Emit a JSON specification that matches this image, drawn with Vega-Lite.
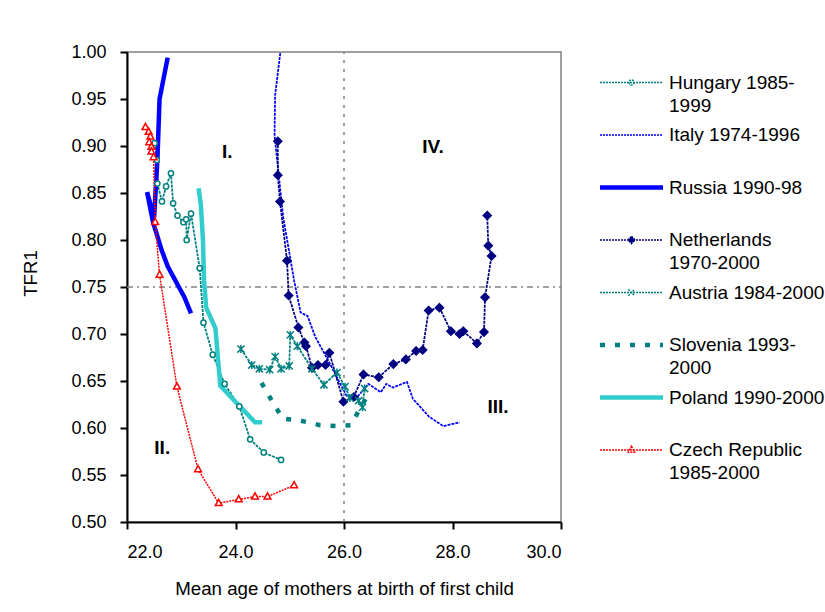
{
  "$schema": "https://vega.github.io/schema/vega-lite/v6.json",
  "width": 434,
  "height": 470,
  "autosize": "none",
  "padding": {"left": 127, "top": 52, "right": 264, "bottom": 90},
  "background": "white",
  "config": {
    "font": "Liberation Sans",
    "view": {"stroke": "#808080", "strokeWidth": 1.5},
    "axis": {
      "grid": false, "domainColor": "black", "domainWidth": 2, "tickColor": "black", "tickWidth": 2, "tickSize": 7,
      "labelFont": "Liberation Sans", "labelFontSize": 18, "labelColor": "black",
      "titleFont": "Liberation Sans", "titleFontSize": 18.7, "titleFontWeight": "normal", "titleColor": "black"
    }
  },
  "datasets": {
    "pts": [
      {"s": "Hungary 1985-1999", "o": 1, "x": 22.51, "y": 0.903},
      {"s": "Hungary 1985-1999", "o": 2, "x": 22.55, "y": 0.885},
      {"s": "Hungary 1985-1999", "o": 3, "x": 22.56, "y": 0.860},
      {"s": "Hungary 1985-1999", "o": 4, "x": 22.645, "y": 0.841},
      {"s": "Hungary 1985-1999", "o": 5, "x": 22.72, "y": 0.857},
      {"s": "Hungary 1985-1999", "o": 6, "x": 22.81, "y": 0.871},
      {"s": "Hungary 1985-1999", "o": 7, "x": 22.85, "y": 0.839},
      {"s": "Hungary 1985-1999", "o": 8, "x": 22.93, "y": 0.826},
      {"s": "Hungary 1985-1999", "o": 9, "x": 23.04, "y": 0.819},
      {"s": "Hungary 1985-1999", "o": 10, "x": 23.09, "y": 0.822},
      {"s": "Hungary 1985-1999", "o": 11, "x": 23.10, "y": 0.800},
      {"s": "Hungary 1985-1999", "o": 12, "x": 23.18, "y": 0.828},
      {"s": "Hungary 1985-1999", "o": 13, "x": 23.34, "y": 0.770},
      {"s": "Hungary 1985-1999", "o": 14, "x": 23.41, "y": 0.712},
      {"s": "Hungary 1985-1999", "o": 15, "x": 23.58, "y": 0.678},
      {"s": "Hungary 1985-1999", "o": 16, "x": 23.80, "y": 0.647},
      {"s": "Hungary 1985-1999", "o": 17, "x": 24.07, "y": 0.623},
      {"s": "Hungary 1985-1999", "o": 18, "x": 24.27, "y": 0.588},
      {"s": "Hungary 1985-1999", "o": 19, "x": 24.52, "y": 0.574},
      {"s": "Hungary 1985-1999", "o": 20, "x": 24.84, "y": 0.566},
      {"s": "Italy 1974-1996", "o": 1, "x": 24.87, "y": 1.02},
      {"s": "Italy 1974-1996", "o": 2, "x": 24.73, "y": 0.954},
      {"s": "Italy 1974-1996", "o": 3, "x": 24.72, "y": 0.911},
      {"s": "Italy 1974-1996", "o": 4, "x": 24.88, "y": 0.824},
      {"s": "Italy 1974-1996", "o": 5, "x": 25.08, "y": 0.757},
      {"s": "Italy 1974-1996", "o": 6, "x": 25.20, "y": 0.723},
      {"s": "Italy 1974-1996", "o": 7, "x": 25.33, "y": 0.719},
      {"s": "Italy 1974-1996", "o": 8, "x": 25.47, "y": 0.697},
      {"s": "Italy 1974-1996", "o": 9, "x": 25.68, "y": 0.675},
      {"s": "Italy 1974-1996", "o": 10, "x": 25.93, "y": 0.647},
      {"s": "Italy 1974-1996", "o": 11, "x": 26.05, "y": 0.634},
      {"s": "Italy 1974-1996", "o": 12, "x": 26.20, "y": 0.630},
      {"s": "Italy 1974-1996", "o": 13, "x": 26.45, "y": 0.647},
      {"s": "Italy 1974-1996", "o": 14, "x": 26.68, "y": 0.638},
      {"s": "Italy 1974-1996", "o": 15, "x": 26.78, "y": 0.647},
      {"s": "Italy 1974-1996", "o": 16, "x": 26.90, "y": 0.643},
      {"s": "Italy 1974-1996", "o": 17, "x": 27.16, "y": 0.649},
      {"s": "Italy 1974-1996", "o": 18, "x": 27.27, "y": 0.631},
      {"s": "Italy 1974-1996", "o": 19, "x": 27.57, "y": 0.612},
      {"s": "Italy 1974-1996", "o": 20, "x": 27.83, "y": 0.602},
      {"s": "Italy 1974-1996", "o": 21, "x": 28.13, "y": 0.606},
      {"s": "Russia 1990-98", "o": 1, "x": 22.75, "y": 0.994},
      {"s": "Russia 1990-98", "o": 2, "x": 22.60, "y": 0.950},
      {"s": "Russia 1990-98", "o": 3, "x": 22.56, "y": 0.885},
      {"s": "Russia 1990-98", "o": 4, "x": 22.50, "y": 0.824},
      {"s": "Russia 1990-98", "o": 5, "x": 22.37, "y": 0.851},
      {"s": "Russia 1990-98", "o": 6, "x": 22.48, "y": 0.819},
      {"s": "Russia 1990-98", "o": 7, "x": 22.64, "y": 0.789},
      {"s": "Russia 1990-98", "o": 8, "x": 22.75, "y": 0.772},
      {"s": "Russia 1990-98", "o": 9, "x": 23.06, "y": 0.739},
      {"s": "Russia 1990-98", "o": 10, "x": 23.18, "y": 0.722},
      {"s": "Netherlands 1970-2000", "o": 1, "x": 24.78, "y": 0.905},
      {"s": "Netherlands 1970-2000", "o": 2, "x": 24.78, "y": 0.869},
      {"s": "Netherlands 1970-2000", "o": 3, "x": 24.82, "y": 0.841},
      {"s": "Netherlands 1970-2000", "o": 4, "x": 24.95, "y": 0.778},
      {"s": "Netherlands 1970-2000", "o": 5, "x": 24.98, "y": 0.741},
      {"s": "Netherlands 1970-2000", "o": 6, "x": 25.16, "y": 0.707},
      {"s": "Netherlands 1970-2000", "o": 7, "x": 25.27, "y": 0.691},
      {"s": "Netherlands 1970-2000", "o": 8, "x": 25.30, "y": 0.687},
      {"s": "Netherlands 1970-2000", "o": 9, "x": 25.41, "y": 0.664},
      {"s": "Netherlands 1970-2000", "o": 10, "x": 25.52, "y": 0.667},
      {"s": "Netherlands 1970-2000", "o": 11, "x": 25.66, "y": 0.667},
      {"s": "Netherlands 1970-2000", "o": 12, "x": 25.73, "y": 0.680},
      {"s": "Netherlands 1970-2000", "o": 13, "x": 25.99, "y": 0.628},
      {"s": "Netherlands 1970-2000", "o": 14, "x": 26.18, "y": 0.633},
      {"s": "Netherlands 1970-2000", "o": 15, "x": 26.36, "y": 0.657},
      {"s": "Netherlands 1970-2000", "o": 16, "x": 26.64, "y": 0.654},
      {"s": "Netherlands 1970-2000", "o": 17, "x": 26.91, "y": 0.668},
      {"s": "Netherlands 1970-2000", "o": 18, "x": 27.14, "y": 0.673},
      {"s": "Netherlands 1970-2000", "o": 19, "x": 27.33, "y": 0.682},
      {"s": "Netherlands 1970-2000", "o": 20, "x": 27.45, "y": 0.683},
      {"s": "Netherlands 1970-2000", "o": 21, "x": 27.56, "y": 0.725},
      {"s": "Netherlands 1970-2000", "o": 22, "x": 27.76, "y": 0.728},
      {"s": "Netherlands 1970-2000", "o": 23, "x": 27.97, "y": 0.703},
      {"s": "Netherlands 1970-2000", "o": 24, "x": 28.13, "y": 0.700},
      {"s": "Netherlands 1970-2000", "o": 25, "x": 28.20, "y": 0.703},
      {"s": "Netherlands 1970-2000", "o": 26, "x": 28.45, "y": 0.690},
      {"s": "Netherlands 1970-2000", "o": 27, "x": 28.58, "y": 0.702},
      {"s": "Netherlands 1970-2000", "o": 28, "x": 28.60, "y": 0.739},
      {"s": "Netherlands 1970-2000", "o": 29, "x": 28.72, "y": 0.783},
      {"s": "Netherlands 1970-2000", "o": 30, "x": 28.66, "y": 0.794},
      {"s": "Netherlands 1970-2000", "o": 31, "x": 28.64, "y": 0.826},
      {"s": "Austria 1984-2000", "o": 1, "x": 24.10, "y": 0.684},
      {"s": "Austria 1984-2000", "o": 2, "x": 24.30, "y": 0.667},
      {"s": "Austria 1984-2000", "o": 3, "x": 24.44, "y": 0.663},
      {"s": "Austria 1984-2000", "o": 4, "x": 24.63, "y": 0.662},
      {"s": "Austria 1984-2000", "o": 5, "x": 24.73, "y": 0.676},
      {"s": "Austria 1984-2000", "o": 6, "x": 24.84, "y": 0.663},
      {"s": "Austria 1984-2000", "o": 7, "x": 24.99, "y": 0.666},
      {"s": "Austria 1984-2000", "o": 8, "x": 25.01, "y": 0.699},
      {"s": "Austria 1984-2000", "o": 9, "x": 25.14, "y": 0.687},
      {"s": "Austria 1984-2000", "o": 10, "x": 25.41, "y": 0.663},
      {"s": "Austria 1984-2000", "o": 11, "x": 25.63, "y": 0.646},
      {"s": "Austria 1984-2000", "o": 12, "x": 25.87, "y": 0.659},
      {"s": "Austria 1984-2000", "o": 13, "x": 26.02, "y": 0.644},
      {"s": "Austria 1984-2000", "o": 14, "x": 26.11, "y": 0.632},
      {"s": "Austria 1984-2000", "o": 15, "x": 26.27, "y": 0.629},
      {"s": "Austria 1984-2000", "o": 16, "x": 26.34, "y": 0.622},
      {"s": "Austria 1984-2000", "o": 17, "x": 26.38, "y": 0.642},
      {"s": "Slovenia 1993-2000", "o": 1, "x": 24.48, "y": 0.648},
      {"s": "Slovenia 1993-2000", "o": 2, "x": 24.66, "y": 0.630},
      {"s": "Slovenia 1993-2000", "o": 3, "x": 24.87, "y": 0.610},
      {"s": "Slovenia 1993-2000", "o": 4, "x": 25.19, "y": 0.608},
      {"s": "Slovenia 1993-2000", "o": 5, "x": 25.56, "y": 0.603},
      {"s": "Slovenia 1993-2000", "o": 6, "x": 25.87, "y": 0.602},
      {"s": "Slovenia 1993-2000", "o": 7, "x": 26.12, "y": 0.603},
      {"s": "Slovenia 1993-2000", "o": 8, "x": 26.47, "y": 0.638},
      {"s": "Poland 1990-2000", "o": 1, "x": 23.32, "y": 0.855},
      {"s": "Poland 1990-2000", "o": 2, "x": 23.36, "y": 0.838},
      {"s": "Poland 1990-2000", "o": 3, "x": 23.40, "y": 0.800},
      {"s": "Poland 1990-2000", "o": 4, "x": 23.42, "y": 0.757},
      {"s": "Poland 1990-2000", "o": 5, "x": 23.46, "y": 0.728},
      {"s": "Poland 1990-2000", "o": 6, "x": 23.63, "y": 0.706},
      {"s": "Poland 1990-2000", "o": 7, "x": 23.72, "y": 0.645},
      {"s": "Poland 1990-2000", "o": 8, "x": 24.03, "y": 0.626},
      {"s": "Poland 1990-2000", "o": 9, "x": 24.36, "y": 0.606},
      {"s": "Poland 1990-2000", "o": 10, "x": 24.49, "y": 0.606},
      {"s": "Czech Republic 1985-2000", "o": 1, "x": 22.34, "y": 0.920},
      {"s": "Czech Republic 1985-2000", "o": 2, "x": 22.40, "y": 0.915},
      {"s": "Czech Republic 1985-2000", "o": 3, "x": 22.43, "y": 0.910},
      {"s": "Czech Republic 1985-2000", "o": 4, "x": 22.41, "y": 0.904},
      {"s": "Czech Republic 1985-2000", "o": 5, "x": 22.45, "y": 0.899},
      {"s": "Czech Republic 1985-2000", "o": 6, "x": 22.45, "y": 0.894},
      {"s": "Czech Republic 1985-2000", "o": 7, "x": 22.49, "y": 0.888},
      {"s": "Czech Republic 1985-2000", "o": 8, "x": 22.52, "y": 0.819},
      {"s": "Czech Republic 1985-2000", "o": 9, "x": 22.60, "y": 0.763},
      {"s": "Czech Republic 1985-2000", "o": 10, "x": 22.92, "y": 0.644},
      {"s": "Czech Republic 1985-2000", "o": 11, "x": 23.31, "y": 0.556},
      {"s": "Czech Republic 1985-2000", "o": 12, "x": 23.69, "y": 0.520},
      {"s": "Czech Republic 1985-2000", "o": 13, "x": 24.06, "y": 0.524},
      {"s": "Czech Republic 1985-2000", "o": 14, "x": 24.36, "y": 0.527},
      {"s": "Czech Republic 1985-2000", "o": 15, "x": 24.59, "y": 0.527},
      {"s": "Czech Republic 1985-2000", "o": 16, "x": 25.08, "y": 0.539}
    ]
  },
  "encoding": {
    "x": {"field": "x", "type": "quantitative", "scale": {"domain": [22, 30], "nice": false, "zero": false},
      "axis": {"values": [22, 24, 26, 28, 30], "format": ".1f", "labelPadding": 14, "titlePadding": 18},
      "title": "Mean age of mothers at birth of first child"},
    "y": {"field": "y", "type": "quantitative", "scale": {"domain": [0.5, 1.0], "nice": false, "zero": false},
      "axis": {"values": [0.5, 0.55, 0.6, 0.65, 0.7, 0.75, 0.8, 0.85, 0.9, 0.95, 1.0], "format": ".2f", "labelPadding": 14, "titlePadding": 30, "titleY": 221},
      "title": "TFR1"}
  },
  "layer": [
    {
      "data": {"values": [{"x": 22, "x2": 30, "y": 0.75}]},
      "mark": {"type": "rule", "color": "#808080", "strokeWidth": 1.5, "strokeDash": [6, 4, 2, 4]},
      "encoding": {"x2": {"field": "x2"}}
    },
    {
      "data": {"values": [{"x": 26, "y": 0.5, "y2": 1.0}]},
      "mark": {"type": "rule", "color": "#808080", "strokeWidth": 1.5, "strokeDash": [3, 6]},
      "encoding": {"y2": {"field": "y2"}}
    },
    {
      "data": {"name": "pts"},
      "transform": [{"filter": {"field": "s", "oneOf": ["Hungary 1985-1999", "Italy 1974-1996", "Netherlands 1970-2000", "Austria 1984-2000"]}}],
      "mark": {"type": "line", "strokeWidth": 1.75, "strokeDash": [3, 1], "clip": true},
      "encoding": {
        "order": {"field": "o", "type": "quantitative"},
        "color": {
          "field": "s", "type": "nominal",
          "scale": {
            "domain": ["Hungary 1985-1999", "Italy 1974-1996", "Russia 1990-98", "Netherlands 1970-2000", "Austria 1984-2000", "Slovenia 1993-2000", "Poland 1990-2000", "Czech Republic 1985-2000"],
            "range": ["#008080", "#0000FF", "#0000FF", "#000080", "#008080", "#008080", "#33CCCC", "#FF0000"]
          },
          "legend": {
            "orient": "none", "legendX": 473, "legendY": 21, "title": null, "padding": 0,
            "symbolSize": 64, "symbolOffset": 22, "labelOffset": 28, "rowPadding": 9.5,
            "labelFont": "Liberation Sans", "labelFontSize": 19, "labelColor": "black", "labelLimit": 400,
            "labelBaseline": "middle",
            "labelExpr": "datum.label=='Hungary 1985-1999'?['Hungary 1985-','1999']:datum.label=='Netherlands 1970-2000'?['Netherlands','1970-2000']:datum.label=='Slovenia 1993-2000'?['Slovenia 1993-','2000']:datum.label=='Czech Republic 1985-2000'?['Czech Republic','1985-2000']:[datum.label,' ']",
            "encode": {
              "labels": {"update": {"lineHeight": {"value": 23}}},
              "symbols": {"update": {
                "shape": {"signal": "datum.value=='Hungary 1985-1999'?'M-7.875,0H7.875M-0.625,0A0.625,0.625 0 1,0 0.625,0A0.625,0.625 0 1,0 -0.625,0':datum.value=='Netherlands 1970-2000'?'M-7.875,0H7.875M0,-0.9L0.9,0L0,0.9L-0.9,0Z':datum.value=='Austria 1984-2000'?'M-7.875,0H7.875M-0.8,-0.8L0.8,0.8M-0.8,0.8L0.8,-0.8':datum.value=='Czech Republic 1985-2000'?'M-7.875,0H7.875M0,-0.9L0.8,0.55L-0.8,0.55Z':'M-7.875,0H7.875'"},
                "strokeDash": {"signal": "(datum.value=='Russia 1990-98'||datum.value=='Poland 1990-2000')?[1,0]:datum.value=='Slovenia 1993-2000'?[5,10]:[2,1]"},
                "strokeWidth": {"signal": "(datum.value=='Russia 1990-98'||datum.value=='Poland 1990-2000'||datum.value=='Slovenia 1993-2000')?4.5:1.5"},
                "fill": {"signal": "datum.value=='Netherlands 1970-2000'?'#000080':'transparent'"},
                "stroke": {"signal": "scale('color', datum.value)"},
                "opacity": {"value": 1}
              }}
            }
          }
        }
      }
    },
    {
      "data": {"name": "pts"},
      "transform": [{"filter": {"field": "s", "equal": "Slovenia 1993-2000"}}],
      "mark": {"type": "line", "strokeWidth": 4.5, "strokeDash": [5, 10]},
      "encoding": {"order": {"field": "o", "type": "quantitative"}, "color": {"field": "s", "type": "nominal"}}
    },
    {
      "data": {"name": "pts"},
      "transform": [{"filter": {"field": "s", "oneOf": ["Russia 1990-98", "Poland 1990-2000"]}}],
      "mark": {"type": "line", "strokeWidth": 4.5},
      "encoding": {"order": {"field": "o", "type": "quantitative"}, "color": {"field": "s", "type": "nominal"}}
    },
    {
      "data": {"name": "pts"},
      "transform": [{"filter": {"field": "s", "equal": "Czech Republic 1985-2000"}}],
      "mark": {"type": "line", "strokeWidth": 1.5, "strokeDash": [2, 1]},
      "encoding": {"order": {"field": "o", "type": "quantitative"}, "color": {"field": "s", "type": "nominal"}}
    },
    {
      "data": {"name": "pts"},
      "transform": [{"filter": {"field": "s", "oneOf": ["Hungary 1985-1999", "Netherlands 1970-2000", "Austria 1984-2000", "Czech Republic 1985-2000"]}}],
      "mark": {"type": "point", "filled": false, "strokeWidth": 1.5, "size": 64, "opacity": 1},
      "encoding": {
        "color": {"field": "s", "type": "nominal"},
        "shape": {"field": "s", "type": "nominal", "legend": null,
          "scale": {"domain": ["Hungary 1985-1999", "Netherlands 1970-2000", "Austria 1984-2000", "Czech Republic 1985-2000"],
            "range": ["M-0.65,0A0.65,0.65 0 1,0 0.65,0A0.65,0.65 0 1,0 -0.65,0", "M0,-1L1,0L0,1L-1,0Z", "M-0.9,-0.9L0.9,0.9M-0.9,0.9L0.9,-0.9M0,-1L0,1", "M0,-0.95L0.85,0.6L-0.85,0.6Z"]}},
        "fill": {"field": "s", "type": "nominal", "legend": null,
          "scale": {"domain": ["Hungary 1985-1999", "Netherlands 1970-2000", "Austria 1984-2000", "Czech Republic 1985-2000"],
            "range": ["white", "#000080", "transparent", "white"]}}
      }
    },
    {
      "data": {"values": [
        {"x": 23.85, "y": 0.894, "t": "I."},
        {"x": 22.65, "y": 0.579, "t": "II."},
        {"x": 28.84, "y": 0.622, "t": "III."},
        {"x": 27.64, "y": 0.899, "t": "IV."}
      ]},
      "mark": {"type": "text", "font": "Liberation Sans", "fontWeight": "bold", "fontSize": 19, "color": "black", "align": "center", "baseline": "middle"},
      "encoding": {"text": {"field": "t"}}
    }
  ]
}
